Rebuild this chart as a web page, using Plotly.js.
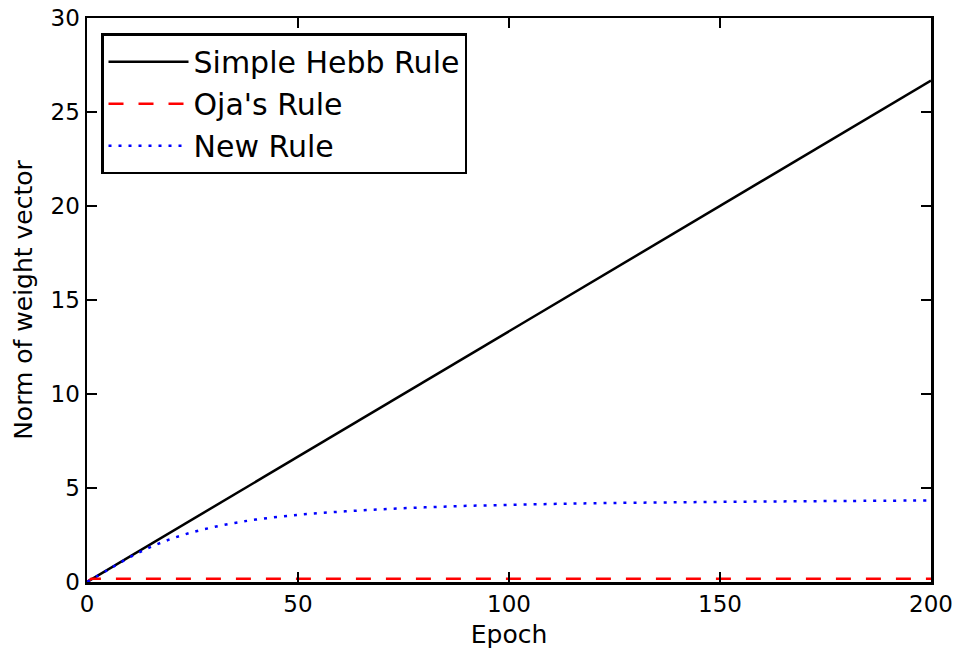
<!DOCTYPE html>
<html>
<head>
<meta charset="utf-8">
<script src="https://cdn.plot.ly/plotly-3.0.1.min.js"></script>
<style>html,body{margin:0;padding:0;background:#fff;}#chart{width:959px;height:654px;}</style>
</head>
<body>
<div id="chart"></div>
<script>
// Data
const hebbEpochs = [0, 50, 100, 150, 200];
const hebbNorm = [0, 6.67, 13.33, 20.0, 26.67];

const ojaEpochs = [0, 1, 200];
const ojaNorm = [0, 0.17, 0.17];

const newEpochs = [0, 5, 10, 15, 20, 25, 30, 35, 40, 50, 60, 70, 80, 90, 100, 110, 120, 140, 160, 180, 200];
const newNorm = [0, 0.65, 1.3, 1.85, 2.3, 2.65, 2.92, 3.14, 3.32, 3.57, 3.74, 3.87, 3.97, 4.05, 4.10, 4.15, 4.19, 4.24, 4.28, 4.31, 4.34];

const seriesNames = ["Simple Hebb Rule", "Oja's Rule", "New Rule"];
const xTicks = [0, 50, 100, 150, 200];
const yTicks = [0, 5, 10, 15, 20, 25, 30];

const font = "DejaVu Sans, sans-serif";

const traces = [
  {x: hebbEpochs, y: hebbNorm, name: seriesNames[0], mode: "lines",
   line: {color: "#000000", width: 2.5}},
  {x: ojaEpochs, y: ojaNorm, name: seriesNames[1], mode: "lines",
   line: {color: "#ff0000", width: 2.5, dash: "15px,15px"}},
  {x: newEpochs, y: newNorm, name: seriesNames[2], mode: "lines",
   line: {color: "#0000ff", width: 2.5, dash: "3px,7px", shape: "spline"}}
];

const axisCommon = {
  showgrid: false, zeroline: false, showline: true, linecolor: "#000", linewidth: 2.5,
  mirror: "ticks", ticks: "inside", ticklen: 10, tickwidth: 1.5, tickcolor: "#000",
  tickfont: {family: font, size: 23, color: "#000"}
};

const layout = {
  width: 959, height: 654,
  margin: {l: 87, r: 28, t: 18, b: 72},
  paper_bgcolor: "#fff", plot_bgcolor: "#fff",
  font: {family: font, color: "#000"},
  showlegend: true,
  legend: {x: 0.0166, y: 0.973, xanchor: "left", yanchor: "top",
    bordercolor: "#000", borderwidth: 2.5, bgcolor: "#fff", itemwidth: 80,
    font: {family: font, size: 30, color: "#000"}, tracegroupgap: 0},
  xaxis: Object.assign({}, axisCommon, {range: [0, 200], tickvals: xTicks,
    title: {text: "Epoch", font: {family: font, size: 25}, standoff: 10}}),
  yaxis: Object.assign({}, axisCommon, {range: [0, 30], tickvals: yTicks,
    title: {text: "Norm of weight vector", font: {family: font, size: 25}, standoff: 11}})
};

Plotly.newPlot("chart", traces, layout, {displayModeBar: false, staticPlot: true});
</script>
</body>
</html>
